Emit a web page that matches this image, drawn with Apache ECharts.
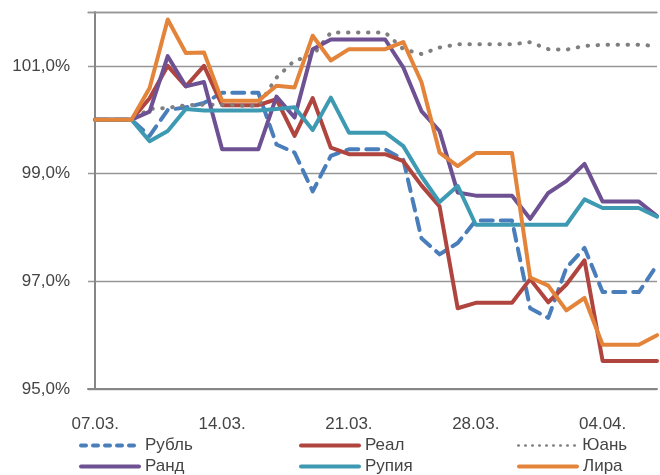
<!DOCTYPE html>
<html>
<head>
<meta charset="utf-8">
<script src="https://cdn.jsdelivr.net/npm/echarts@6/dist/echarts.min.js"></script>
<style>
html,body{margin:0;padding:0;background:#fff;}
#chart{width:660px;height:475px;}
</style>
</head>
<body>
<div id="chart"></div>
<script>
var dates = ['07.03.','08.03.','09.03.','10.03.','11.03.','12.03.','13.03.','14.03.','15.03.','16.03.','17.03.','18.03.','19.03.','20.03.','21.03.','22.03.','23.03.','24.03.','25.03.','26.03.','27.03.','28.03.','29.03.','30.03.','31.03.','01.04.','02.04.','03.04.','04.04.','05.04.','06.04.','07.04.'];
var labelDays = [0, 7, 14, 21, 28];
var seriesNames = ['Рубль','Реал','Юань','Ранд','Рупия','Лира'];
var rubl   = [100,100,100,99.7,100.18,100.23,100.31,100.5,100.5,100.5,99.54,99.39,98.67,99.33,99.45,99.45,99.45,99.26,97.8,97.5,97.71,98.13,98.13,98.13,96.5,96.32,97.25,97.62,96.8,96.8,96.8,97.3];
var real   = [100,100,100,100.4,101.0,100.62,101.0,100.27,100.27,100.27,100.38,99.7,100.4,99.48,99.36,99.36,99.36,99.23,98.78,98.39,96.5,96.6,96.6,96.6,97.04,96.61,96.94,97.39,95.52,95.52,95.52,95.52];
var yuan   = [100,100,100,100.2,100.22,100.27,100.28,100.28,100.26,100.26,100.78,101.1,101.19,101.62,101.62,101.62,101.62,101.31,101.22,101.34,101.4,101.4,101.4,101.4,101.44,101.31,101.3,101.37,101.39,101.39,101.39,101.37];
var rand   = [100,100,100,100.15,101.18,100.62,100.7,99.45,99.45,99.45,100.43,100.04,101.31,101.49,101.49,101.49,101.49,100.97,100.16,99.79,98.65,98.59,98.59,98.59,98.16,98.64,98.86,99.18,98.48,98.48,98.48,98.21];
var rupiya = [100,100,100,99.6,99.79,100.2,100.17,100.17,100.17,100.17,100.2,100.23,99.81,100.41,99.76,99.76,99.76,99.51,98.95,98.47,98.77,98.05,98.05,98.05,98.05,98.05,98.05,98.52,98.36,98.36,98.36,98.2];
var lira   = [100,100,100,100.59,101.86,101.24,101.25,100.35,100.35,100.35,100.63,100.6,101.56,101.1,101.31,101.31,101.31,101.44,100.7,99.39,99.14,99.38,99.38,99.38,97.07,96.92,96.46,96.69,95.82,95.82,95.82,96.0];

var allValues = [rubl, real, yuan, rand, rupiya, lira];
var colors = ['#4A7EBB','#B0443F','#7F7F7F','#6E5193','#3D9AB2','#E3843A'];
var lineTypes = [[12,8],'solid',[0.5,9.5],'solid','solid','solid'];
var legendTypes = [[5,7],'solid',[0.5,6.5],'solid','solid','solid'];
var legendWidths = [4,4,2.5,4,4,4];
var textColor = '#444444';
var fontFam = 'Liberation Sans, Arial, sans-serif';

function pairs(arr){ return arr.map(function(v,i){ return [i, v]; }); }

var series = seriesNames.map(function(n, k){
  return {
    name: n, type: 'line', symbol: 'none', smooth: false,
    data: pairs(allValues[k]),
    lineStyle: { color: colors[k], width: 4, type: lineTypes[k], cap: 'round', join: 'round' },
    itemStyle: { color: colors[k] },
    emphasis: { disabled: true },
    z: 2 + k
  };
});

var legendLeft = [79, 299, 517];
var legendTop = [437, 458];
var legends = seriesNames.map(function(n, k){
  return {
    data: [n], left: legendLeft[k % 3], top: legendTop[Math.floor(k / 3)],
    padding: 0, itemWidth: 58, itemHeight: 14, itemGap: 0, selectedMode: false,
    itemStyle: { opacity: 0 },
    lineStyle: { color: colors[k], width: legendWidths[k], type: legendTypes[k], cap: 'round' },
    textStyle: { color: textColor, fontSize: 17, fontFamily: fontFam, padding: [0,0,0,1] }
  };
});

var chart = echarts.init(document.getElementById('chart'), null, { renderer: 'canvas' });
chart.setOption({
  animation: false,
  backgroundColor: '#ffffff',
  grid: { left: 88, right: 3, top: 12, bottom: 86, containLabel: false },
  legend: legends,
  xAxis: [{
    type: 'value', min: -0.4, max: 31,
    axisLine: { show: true, lineStyle: { color: '#868686', width: 2 } },
    axisTick: { show: false },
    splitLine: { show: false },
    axisLabel: {
      customValues: labelDays,
      formatter: function(v){ return dates[Math.round(v)] || ''; },
      color: textColor, fontSize: 17, fontFamily: fontFam, margin: 27
    }
  }, {
    type: 'value', position: 'top', min: -0.4, max: 31,
    axisLine: { show: true, onZero: false, lineStyle: { color: '#969696', width: 1.4 } },
    axisTick: { show: false }, axisLabel: { show: false }, splitLine: { show: false }
  }],
  yAxis: {
    type: 'value', min: 95, max: 102, interval: 2,
    axisLine: { show: true, lineStyle: { color: '#868686', width: 2 } },
    axisTick: { show: false },
    splitLine: { show: true, lineStyle: { color: '#969696', width: 1.4 } },
    axisLabel: {
      showMaxLabel: false,
      formatter: function(v){ return v === 102 ? '' : v.toFixed(1).replace('.', ',') + '%'; },
      color: textColor, fontSize: 17, fontFamily: fontFam, margin: 18
    }
  },
  series: series
});
</script>
</body>
</html>
